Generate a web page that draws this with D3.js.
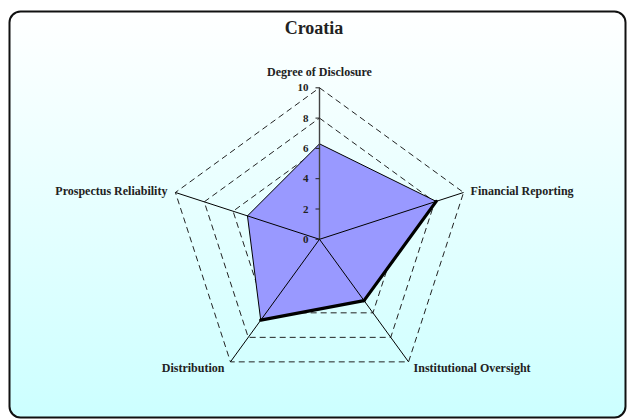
<!DOCTYPE html>
<html>
<head>
<meta charset="utf-8">
<script src="https://cdn.jsdelivr.net/npm/d3@7"></script>
<style>
  body { margin: 0; background: #fff; }
  svg text { font-family: "Liberation Serif", "DejaVu Serif", serif; font-weight: bold; fill: #222; }
</style>
</head>
<body>
<script>
// chart data
var title = "Croatia";
var categories = ["Degree of Disclosure", "Financial Reporting", "Institutional Oversight", "Distribution", "Prospectus Reliability"];
var values = [6.3, 8.1, 5.0, 6.6, 5.0];
var tickValues = [0, 2, 4, 6, 8, 10];
// the heavy outline runs over these edges only (index of start vertex)
var heavyEdges = [1, 2];

var width = 629, height = 419;
var cx = 319.5, cy = 239.3, radius = 151.5;

var svg = d3.select("body").append("svg")
	.attr("width", width).attr("height", height);

// background gradient, white to light cyan
var grad = svg.append("defs").append("linearGradient")
	.attr("id", "bg").attr("x1", 0).attr("y1", 0).attr("x2", 0).attr("y2", 1);
grad.append("stop").attr("offset", "0%").attr("stop-color", "#ffffff");
grad.append("stop").attr("offset", "100%").attr("stop-color", "#ccffff");

svg.append("rect")
	.attr("x", 9.5).attr("y", 11.5).attr("width", 616).attr("height", 406)
	.attr("rx", 11).attr("ry", 11)
	.style("fill", "url(#bg)")
	.style("stroke", "#111").style("stroke-width", 2);

svg.append("text")
	.attr("x", 314).attr("y", 34)
	.attr("text-anchor", "middle")
	.style("font-size", "18px")
	.text(title);

var r = d3.scaleLinear().domain([0, 10]).range([0, radius]);
var angle = function(i) { return -Math.PI / 2 + i * 2 * Math.PI / categories.length; };
var pt = function(i, v) {
	return [cx + r(v) * Math.cos(angle(i)), cy + r(v) * Math.sin(angle(i))];
};

var chart = svg.append("g");

// dashed rings
chart.selectAll(".ring")
	.data(tickValues.filter(function(d) { return d > 0; }))
	.enter().append("polygon")
	.attr("class", "ring")
	.attr("points", function(v) {
		return categories.map(function(c, i) { return pt(i, v).join(","); }).join(" ");
	})
	.style("fill", "none")
	.style("stroke", "#222")
	.style("stroke-width", 1)
	.style("stroke-dasharray", "6,4");

// data area
var area = categories.map(function(c, i) { return pt(i, values[i]); });
chart.append("polygon")
	.attr("points", area.map(function(p) { return p.join(","); }).join(" "))
	.style("fill", "#9999ff")
	.style("stroke", "#000")
	.style("stroke-width", 1);

// spokes
chart.selectAll(".spoke")
	.data(categories)
	.enter().append("line")
	.attr("class", "spoke")
	.attr("x1", cx).attr("y1", cy)
	.attr("x2", function(d, i) { return pt(i, 10)[0]; })
	.attr("y2", function(d, i) { return pt(i, 10)[1]; })
	.style("stroke", function(d, i) { return i == 0 ? "#444" : "#000"; })
	.style("stroke-width", function(d, i) { return i == 0 ? 1.4 : 1; });

// heavy outline part
chart.selectAll(".heavy")
	.data(heavyEdges)
	.enter().append("line")
	.attr("class", "heavy")
	.attr("x1", function(i) { return area[i][0]; })
	.attr("y1", function(i) { return area[i][1]; })
	.attr("x2", function(i) { return area[(i + 1) % area.length][0]; })
	.attr("y2", function(i) { return area[(i + 1) % area.length][1]; })
	.style("stroke", "#000")
	.style("stroke-width", 3.2)
	.style("stroke-linecap", "round");

// value axis ticks + labels on the top spoke
chart.selectAll(".tick")
	.data(tickValues)
	.enter().append("line")
	.attr("x1", cx - 4).attr("x2", cx)
	.attr("y1", function(d) { return cy - r(d); })
	.attr("y2", function(d) { return cy - r(d); })
	.style("stroke", "#222");

chart.selectAll(".ticklabel")
	.data(tickValues)
	.enter().append("text")
	.attr("x", cx - 11)
	.attr("y", function(d) { return cy - r(d) + 3.5; })
	.attr("text-anchor", "end")
	.style("font-size", "11px")
	.text(function(d) { return d; });

// category labels
var labelPos = [
	{dx: 0, dy: -12, anchor: "middle"},
	{dx: 7, dy: 3, anchor: "start"},
	{dx: 5, dy: 10, anchor: "start"},
	{dx: -6, dy: 10, anchor: "end"},
	{dx: -8, dy: 3, anchor: "end"}
];
chart.selectAll(".catlabel")
	.data(categories)
	.enter().append("text")
	.attr("x", function(d, i) { return pt(i, 10)[0] + labelPos[i].dx; })
	.attr("y", function(d, i) { return pt(i, 10)[1] + labelPos[i].dy; })
	.attr("text-anchor", function(d, i) { return labelPos[i].anchor; })
	.style("font-size", "12px")
	.text(function(d) { return d; });
</script>
</body>
</html>
